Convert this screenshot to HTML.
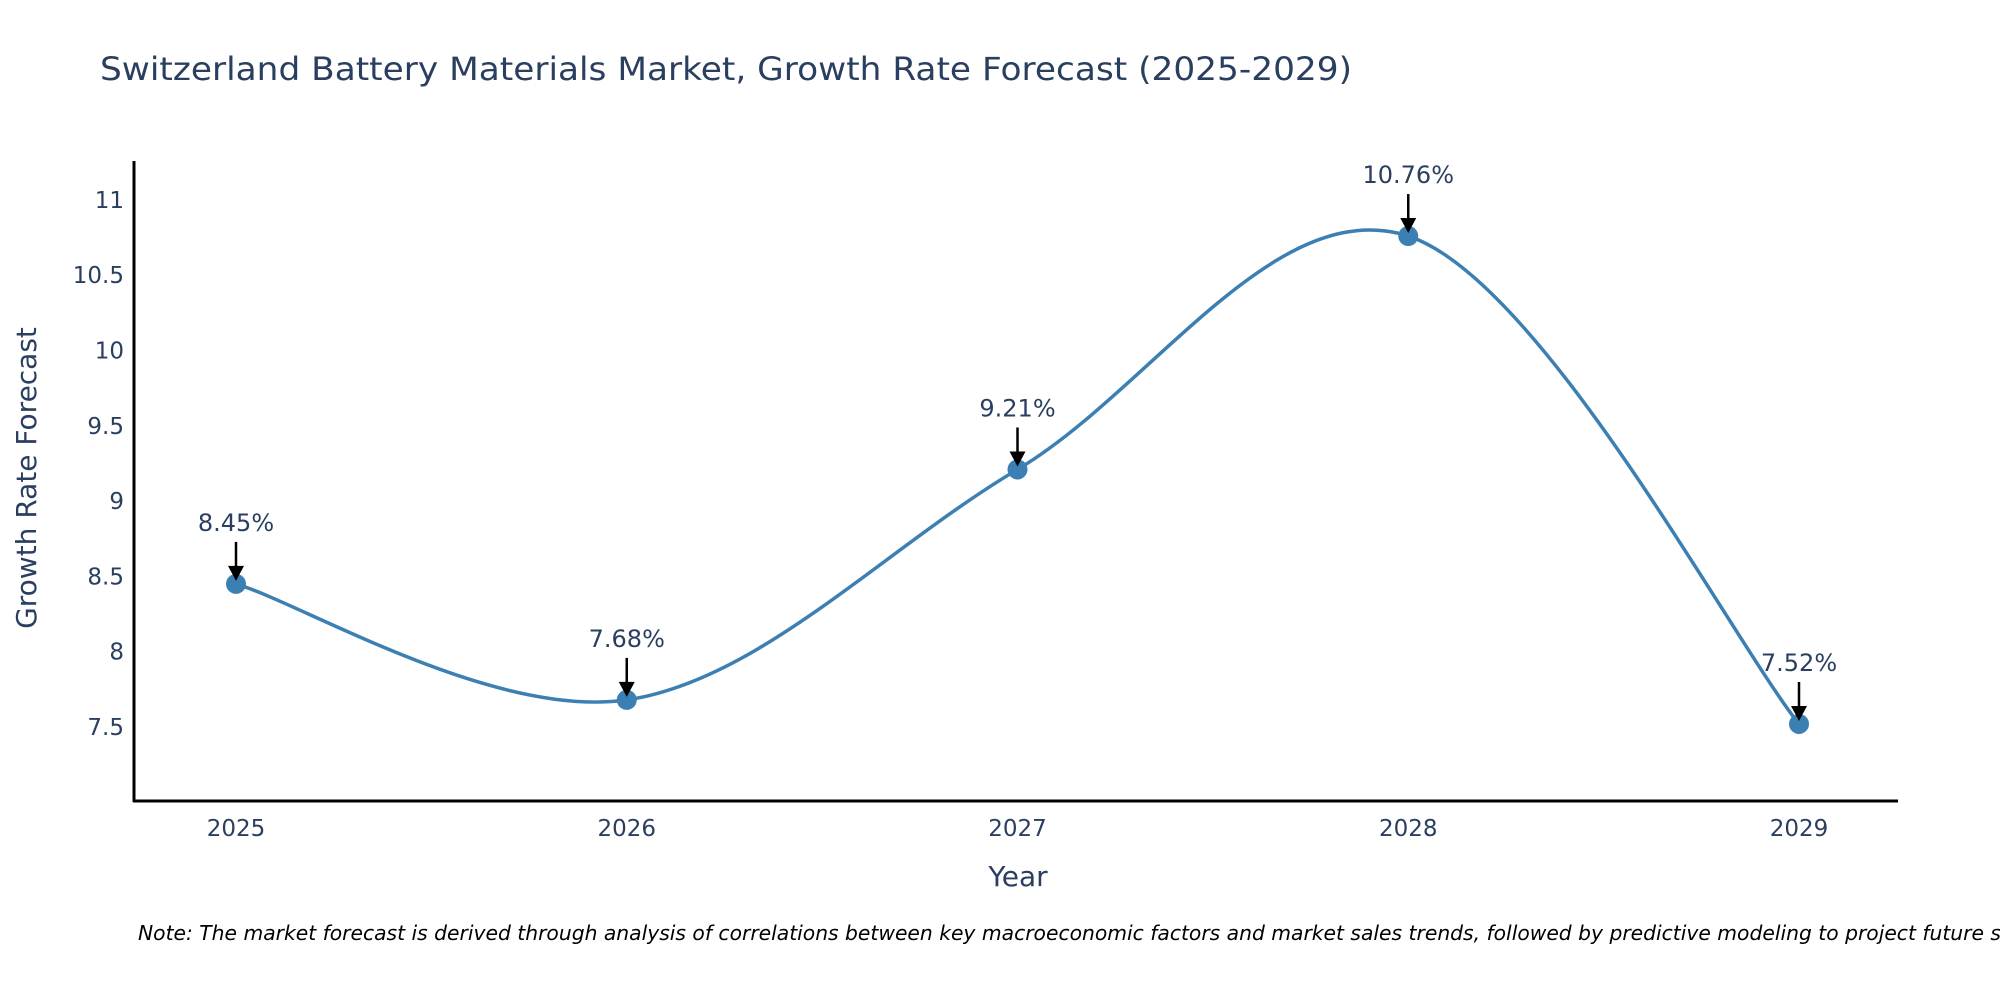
<!DOCTYPE html>
<html><head><meta charset="utf-8"><style>
html,body{margin:0;padding:0;background:#fff;}
svg text{font-family:"DejaVu Sans","Liberation Sans",sans-serif;fill:#2a3f5f;}
</style></head><body>
<svg id="chart" width="2000" height="1000" viewBox="0 0 2000 1000" xmlns="http://www.w3.org/2000/svg">
<rect width="2000" height="1000" fill="#fff"/>
<text x="100" y="80" font-size="32" textLength="1252" lengthAdjust="spacingAndGlyphs">Switzerland Battery Materials Market, Growth Rate Forecast (2025-2029)</text>
<g id="yticks"></g>
<g id="xticks"></g>
<line x1="134" y1="161" x2="134" y2="802" stroke="#000" stroke-width="3"/>
<line x1="133" y1="801" x2="1898" y2="801" stroke="#000" stroke-width="3"/>
<text transform="translate(36,478) rotate(-90)" text-anchor="middle" font-size="28">Growth Rate Forecast</text>
<text x="1018" y="886" text-anchor="middle" font-size="28">Year</text>
<g id="series"></g>
<g id="annots"></g>
<text x="138" y="940" font-size="20.3" font-style="italic" style="fill:#000">Note: The market forecast is derived through analysis of correlations between key macroeconomic factors and market sales trends, followed by predictive modeling to project future sales.</text>
</svg>
<script>
const categories = ["2025","2026","2027","2028","2029"];
const values = [8.45, 7.68, 9.21, 10.76, 7.52];
const labels = ["8.45%","7.68%","9.21%","10.76%","7.52%"];
const yTicks = [7.5, 8, 8.5, 9, 9.5, 10, 10.5, 11];
const yTickLabels = ["7.5","8","8.5","9","9.5","10","10.5","11"];

const NS = "http://www.w3.org/2000/svg";
function xPos(i){ return 236 + i * 390.75; }
function yPos(v){ return 727 - (v - 7.5) * 150.6; }
function mk(tag, attrs, parent){ const e=document.createElementNS(NS,tag); for(const k in attrs) e.setAttribute(k,attrs[k]); parent.appendChild(e); return e; }

const yg=document.getElementById('yticks');
yTicks.forEach((v,i)=>{
  const t=mk('text',{x:124,y:yPos(v)+8,'text-anchor':'end','font-size':23},yg);
  
  
  t.textContent=yTickLabels[i];
});
const xg=document.getElementById('xticks');
categories.forEach((c,i)=>{
  const t=mk('text',{x:xPos(i),y:836,'text-anchor':'middle','font-size':23},xg);
  
  
  t.textContent=c;
});

const pts=values.map((v,i)=>[xPos(i),yPos(v)]);
let d=`M${pts[0][0]},${pts[0][1]}`;
const k=0.17;
for(let i=0;i<pts.length-1;i++){
  const p0=pts[Math.max(i-1,0)],p1=pts[i],p2=pts[i+1],p3=pts[Math.min(i+2,pts.length-1)];
  const c1=[p1[0]+(p2[0]-p0[0])*k,p1[1]+(p2[1]-p0[1])*k];
  const c2=[p2[0]-(p3[0]-p1[0])*k,p2[1]-(p3[1]-p1[1])*k];
  d+=` C${c1[0]},${c1[1]} ${c2[0]},${c2[1]} ${p2[0]},${p2[1]}`;
}
const sg=document.getElementById('series');
const line=mk('path',{d:d,fill:'none',stroke:'#3b7fb3','stroke-width':3.5},sg);


pts.forEach((p,i)=>{
  const c=mk('circle',{cx:p[0],cy:p[1],r:10,fill:'#3b7fb3'},sg);
  
  
});
const ag=document.getElementById('annots');
pts.forEach((p,i)=>{
  const a=mk('line',{x1:p[0],y1:p[1]-42,x2:p[0],y2:p[1]-16,stroke:'#000','stroke-width':2.5},ag);
  
  
  const h=mk('path',{d:`M${p[0]-8},${p[1]-18} L${p[0]+8},${p[1]-18} L${p[0]},${p[1]-3} Z`,fill:'#000'},ag);
  
  
  const t=mk('text',{x:p[0],y:p[1]-53,'text-anchor':'middle','font-size':24},ag);
  
  
  t.textContent=labels[i];
});
</script>
</body></html>
